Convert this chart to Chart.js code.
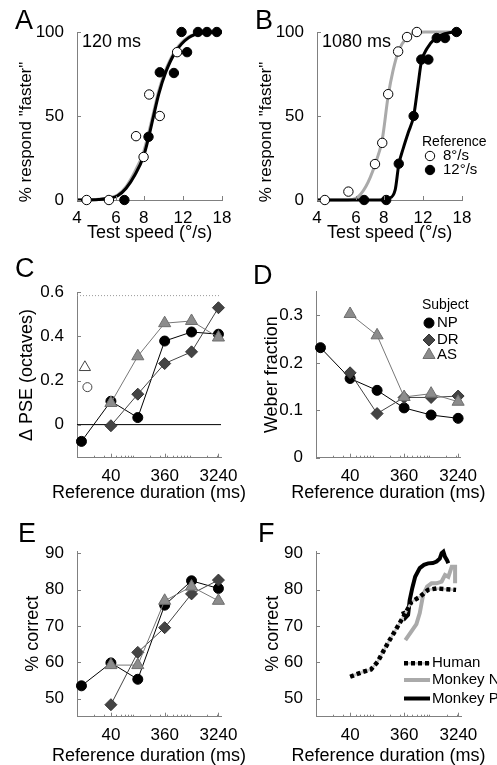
<!DOCTYPE html>
<html>
<head>
<meta charset="utf-8">
<script src="https://cdn.jsdelivr.net/npm/chart.js@4.4.0/dist/chart.umd.min.js"></script>
<style>
  body { margin: 0; background: #fff; }
  #figura { position: relative; width: 497px; height: 765px; overflow: hidden; font-family: 'Liberation Sans', Arial, sans-serif; }
  #figura canvas { position: absolute; }
  .letra { position: absolute; font-size: 27px; line-height: 27px; color: #000; }
</style>
</head>
<body>
<div id="figura">
  <canvas id="painelA" width="260" height="260" style="left:0;top:0"></canvas>
  <canvas id="painelB" width="257" height="260" style="left:240px;top:0"></canvas>
  <canvas id="painelC" width="260" height="260" style="left:0;top:260px"></canvas>
  <canvas id="painelD" width="257" height="260" style="left:240px;top:260px"></canvas>
  <canvas id="painelE" width="260" height="250" style="left:0;top:520px"></canvas>
  <canvas id="painelF" width="257" height="250" style="left:240px;top:520px"></canvas>
  <div class="letra" style="left:15px;top:7px">A</div>
  <div class="letra" style="left:255px;top:7px">B</div>
  <div class="letra" style="left:15px;top:255px">C</div>
  <div class="letra" style="left:253px;top:262px">D</div>
  <div class="letra" style="left:18px;top:520px">E</div>
  <div class="letra" style="left:258px;top:520px">F</div>
</div>
<script>
// ---- A: 120 ms (velocidade de teste em °/s, % respondeu "faster")
const velAbertoA = [4.42, 5.57, 7.38, 7.98, 8.46, 9.44, 11.3]
const pctAbertoA = [0, 0, 38, 25.6, 62.8, 50, 88]
const velCheioA = [6.54, 8.4, 9.44, 10.93, 11.83, 12.53, 14.03, 15.4, 17.06]
const pctCheioA = [0, 37.6, 76, 75.6, 100, 88, 100, 100, 100]
const velCurvaA = [4, 5, 5.6, 6.1, 6.66, 7.3, 7.98, 8.4, 8.85, 9.34, 10.04, 11.1, 12.7, 14.8, 18]
const curvaPretaA = [0, 0.3, 1, 2.5, 7, 15, 26, 37, 50, 63, 76, 88, 96.5, 99.5, 100]
const curvaCinzaA = [0, 0.4, 1.3, 3, 8, 17, 28.5, 39.5, 52, 65, 77.5, 89, 97, 99.6, 100]

// ---- B: 1080 ms
const velAbertoB = [4.34, 5.54, 7.3, 7.87, 8.37, 9.28, 10.18, 11.27]
const pctAbertoB = [0, 5, 21.4, 34, 63, 88.4, 97, 100]
const velCheioB = [6.52, 8.2, 9.34, 10.9, 11.8, 12.7, 13.85, 15.1, 17]
const pctCheioB = [0, 0, 21.6, 50, 83.6, 83.6, 96.4, 96.4, 100]
const velCinzaB = [4, 5.5, 6, 6.64, 7.3, 7.87, 8.37, 8.8, 9.28, 10.18, 11.0, 12.3, 18]
const curvaCinzaB = [0, 0, 1, 8, 21, 36, 62, 77, 88, 97, 99.5, 100, 100]
const velPretaB = [4, 7.6, 8.43, 9.0, 9.34, 9.8, 10.3, 10.9, 11.4, 11.8, 12.5, 13.6, 15.1, 17, 18]
const curvaPretaB = [0, 0, 1, 6, 21, 31, 40, 50, 68, 82, 90, 96, 99, 100, 100]

const marcasVelocidade = [4, 6, 8, 12, 18]
const marcasPct = [0, 50, 100]

// ---- C, D, E: duração de referência (ms) por sujeito
const duracoes = [12, 40, 120, 360, 1080, 3240]
const psePN = [-0.076, 0.106, 0.032, 0.379, 0.42, 0.41]
const pseDR = [null, -0.005, 0.138, 0.277, 0.33, 0.53]
const pseAS = [null, 0.098, 0.31, 0.46, 0.47, 0.395]
const durAbertoTri = [13.8]
const pseAbertoTri = [0.26]
const durAbertoCirc = [15.3]
const pseAbertoCirc = [0.17]
const marcasPse = [0, 0.2, 0.4, 0.6]

const weberNP = [0.232, 0.167, 0.142, 0.105, 0.09, 0.083]
const weberDR = [null, 0.179, 0.093, 0.127, 0.127, 0.13]
const weberAS = [null, 0.303, 0.258, 0.128, 0.135, 0.118]
const marcasWeber = [0, 0.1, 0.2, 0.3]

const acertoNP = [53.5, 59.8, 55.3, 75.7, 82.4, 80.3]
const acertoDR = [null, 48.3, 62.7, 69.5, 78.8, 82.6]
const acertoAS = [null, 59.2, 59.2, 76.9, 80.8, 76.9]
const marcasAcerto = [50, 60, 70, 80, 90]

// ---- F: humano x macacos
const durHumano = [40, 66, 93, 122, 150, 184, 233, 297, 376, 481, 675, 949, 1336, 2014, 2946]
const acertoHumano = [56, 57.3, 58, 60.1, 62.7, 65.2, 67.9, 70.7, 73.4, 76.6, 78, 79.9, 80.3, 80.1, 79.9]
const durMacacoN = [376, 481, 589, 675, 773, 910, 1089, 1336, 1641, 1880, 2155, 2472, 2832, 2832]
const acertoMacacoN = [66.1, 68.5, 70.5, 73.5, 78.5, 80.8, 81.7, 81.7, 82.2, 84, 83.5, 86.3, 86.3, 81.7]
const durMacacoP = [340, 376, 420, 448, 500, 560, 675, 800, 950, 1150, 1336, 1520, 1641, 1760, 1880, 2050, 2150]
const acertoMacacoP = [74, 72.2, 73, 77, 80.5, 83.5, 85.9, 86.8, 87.2, 87.3, 87.7, 88.5, 90, 90.4, 89, 88, 87.2]

const marcasDuracao = [40, 360, 3240]
const marcasMenores = []
for (let d = 10; d <= 1000; d *= 10) {
    for (let k = 1; k <= 9; k++) marcasMenores.push(d * k)
}
const ticksDuracao = [...new Set(marcasMenores.filter(v => v <= 3600).concat(marcasDuracao))].sort((a, b) => a - b)

Chart.defaults.font.family = "'Liberation Sans', Arial, sans-serif"
Chart.defaults.color = '#000'

const CINZA_EIXO = '#808080'
const FONTE = "'Liberation Sans', Arial, sans-serif"

const pares = (xs, ys) => xs.map((x, i) => ({ x, y: ys[i] })).filter(p => p.y !== null)

function curva(xs, ys, cor, largura, ordem, extra) {
    return Object.assign({
        data: pares(xs, ys), showLine: true, borderColor: cor, borderWidth: largura,
        pointRadius: 0, cubicInterpolationMode: 'monotone', clip: false, order: ordem
    }, extra || {})
}

function pontos(xs, ys, estilo, raio, fundo, borda, ordem, corLinha) {
    return {
        data: pares(xs, ys), showLine: !!corLinha, borderColor: corLinha || borda, borderWidth: 1,
        pointStyle: estilo, pointRadius: raio, pointBackgroundColor: fundo,
        pointBorderColor: borda, pointBorderWidth: 1, clip: false, order: ordem
    }
}

function eixoX(tipo, min, max, marcas, principais, padTicks) {
    return {
        type: tipo, min, max,
        grid: { display: false },
        border: { color: CINZA_EIXO },
        afterBuildTicks: s => { s.ticks = marcas.map(v => ({ value: v })) },
        ticks: {
            autoSkip: false, maxRotation: 0, padding: padTicks, font: { size: 17 },
            callback: v => principais.includes(v) ? String(v) : ''
        }
    }
}

function eixoY(min, max, marcas, titulo, padTitulo) {
    return {
        type: 'linear', min, max,
        grid: { display: false },
        border: { color: CINZA_EIXO },
        afterBuildTicks: s => { s.ticks = marcas.map(v => ({ value: v })) },
        ticks: { padding: 5, font: { size: 17 }, callback: v => String(v) },
        title: titulo
            ? { display: true, text: titulo, font: { size: 18 }, padding: { top: padTitulo, bottom: 0 } }
            : { display: false }
    }
}

// desenha linhas de referência, tiques internos, legendas e textos soltos
function camadaExtra(cfg) {
    return {
        id: 'camadaExtra',
        beforeDatasetsDraw(chart) {
            const { ctx, chartArea, scales } = chart
            ;(cfg.linhasH || []).forEach(l => {
                const py = scales.y.getPixelForValue(l.valor)
                ctx.save()
                ctx.strokeStyle = l.cor
                ctx.lineWidth = 1
                ctx.setLineDash(l.tracejado || [])
                ctx.beginPath()
                ctx.moveTo(chartArea.left, py)
                ctx.lineTo(chartArea.right, py)
                ctx.stroke()
                ctx.restore()
            })
        },
        afterDraw(chart) {
            const { ctx, chartArea, scales } = chart
            ctx.save()
            ctx.strokeStyle = CINZA_EIXO
            ctx.lineWidth = 1
            ctx.beginPath()
            scales.x.ticks.forEach(t => {
                const px = Math.round(scales.x.getPixelForValue(t.value)) + 0.5
                ctx.moveTo(px, chartArea.bottom)
                ctx.lineTo(px, chartArea.bottom - (t.label ? 4 : 2))
            })
            scales.y.ticks.forEach(t => {
                const py = Math.round(scales.y.getPixelForValue(t.value)) + 0.5
                ctx.moveTo(chartArea.left, py)
                ctx.lineTo(chartArea.left + 4, py)
            })
            ctx.stroke()

            ;(cfg.tracos || []).forEach(l => {
                ctx.save()
                ctx.strokeStyle = l.cor
                ctx.lineWidth = l.largura
                ctx.setLineDash(l.tracejado || [])
                ctx.beginPath()
                ctx.moveTo(l.x1, l.y)
                ctx.lineTo(l.x2, l.y)
                ctx.stroke()
                ctx.restore()
            })

            ;(cfg.marcadores || []).forEach(m => {
                ctx.fillStyle = m.fundo
                ctx.strokeStyle = m.borda
                ctx.lineWidth = 1
                Chart.helpers.drawPoint(ctx, { pointStyle: m.estilo, radius: m.raio, rotation: 0, borderWidth: 1 }, m.x, m.y)
            })

            const textos = (cfg.textos || []).slice()
            if (cfg.tituloX) {
                textos.push({ texto: cfg.tituloX, x: (chartArea.left + chartArea.right) / 2, y: cfg.yTituloX, tam: 18, alinh: 'center' })
            }
            textos.forEach(t => {
                ctx.save()
                ctx.font = t.tam + 'px ' + FONTE
                ctx.fillStyle = '#000'
                ctx.textAlign = t.alinh || 'left'
                ctx.textBaseline = 'middle'
                ctx.translate(t.x, t.y)
                if (t.rot) ctx.rotate(t.rot)
                ctx.fillText(t.texto, 0, 0)
                ctx.restore()
            })
            ctx.restore()
        }
    }
}

function criarPainel(id, area, datasets, x, y, extras) {
    const canvas = document.getElementById(id)
    const w = canvas.width
    const h = canvas.height
    x.afterFit = s => { s.height = h - area.base }
    y.afterFit = s => { s.width = area.esq }
    return new Chart(canvas, {
        type: 'scatter',
        data: { datasets },
        options: {
            responsive: false,
            animation: false,
            events: [],
            layout: { padding: { top: area.topo, right: w - area.dir, bottom: 0, left: 0 } },
            plugins: { legend: { display: false }, tooltip: { enabled: false } },
            scales: { x, y }
        },
        plugins: [camadaExtra(extras)]
    })
}

const tituloPsico = { texto: '% respond "faster"', x: 26.7, y: 132, tam: 17, alinh: 'center', rot: -Math.PI / 2 }
const tituloVel = 'Test speed (°/s)'
const tituloDur = 'Reference duration (ms)'

// A
criarPainel('painelA', { esq: 77, topo: 32, dir: 222, base: 200 }, [
    pontos(velCheioA, pctCheioA, 'circle', 4.7, '#000', '#000', 1),
    pontos(velAbertoA, pctAbertoA, 'circle', 4.7, '#fff', '#000', 2),
    curva(velCurvaA, curvaPretaA, '#000', 3, 3),
    curva(velCurvaA, curvaCinzaA, '#aaa', 3, 4)
], eixoX('logarithmic', 4, 18, marcasVelocidade, marcasVelocidade, 0),
   eixoY(0, 100, marcasPct, null), {
    tituloX: tituloVel, yTituloX: 233.5,
    textos: [tituloPsico, { texto: '120 ms', x: 82, y: 42, tam: 18 }]
})

// B
criarPainel('painelB', { esq: 77, topo: 32, dir: 222, base: 200 }, [
    pontos(velCheioB, pctCheioB, 'circle', 4.7, '#000', '#000', 1),
    pontos(velAbertoB, pctAbertoB, 'circle', 4.7, '#fff', '#000', 2),
    curva(velPretaB, curvaPretaB, '#000', 3, 3),
    curva(velCinzaB, curvaCinzaB, '#aaa', 3, 4)
], eixoX('logarithmic', 4, 18, marcasVelocidade, marcasVelocidade, 0),
   eixoY(0, 100, marcasPct, null), {
    tituloX: tituloVel, yTituloX: 233.5,
    textos: [
        tituloPsico,
        { texto: '1080 ms', x: 82, y: 42, tam: 18 },
        { texto: 'Reference', x: 182, y: 142, tam: 14 },
        { texto: '8°/s', x: 203, y: 156, tam: 15 },
        { texto: '12°/s', x: 203, y: 170, tam: 15 }
    ],
    marcadores: [
        { estilo: 'circle', raio: 4.7, x: 190, y: 156, fundo: '#fff', borda: '#000' },
        { estilo: 'circle', raio: 4.7, x: 190, y: 170, fundo: '#000', borda: '#000' }
    ]
})

const estiloNP = ['circle', 5, '#000', '#000']
const estiloDR = ['rectRot', 6, '#444', '#333']
const estiloAS = ['triangle', 7, '#8c8c8c', '#6e6e6e']

function sujeitos(np, dr, as) {
    return [
        pontos(duracoes, as, ...estiloAS, 1, '#777'),
        pontos(duracoes, dr, ...estiloDR, 2, '#444'),
        pontos(duracoes, np, ...estiloNP, 3, '#000')
    ]
}

const eixoDuracao = () => eixoX('logarithmic', 10, 3600, ticksDuracao, marcasDuracao, 0)

// C
criarPainel('painelC', { esq: 77, topo: 32.3, dir: 221, base: 197.7 }, [
    ...sujeitos(psePN, pseDR, pseAS),
    pontos(durAbertoTri, pseAbertoTri, 'triangle', 6.5, '#fff', '#444', 4),
    pontos(durAbertoCirc, pseAbertoCirc, 'circle', 4.5, '#fff', '#444', 4)
], eixoDuracao(), eixoY(-0.15, 0.6, marcasPse, 'Δ PSE (octaves)', 16), {
    tituloX: tituloDur, yTituloX: 233.5,
    linhasH: [
        { valor: 0, cor: '#000' },
        { valor: Math.log2(12 / 8), cor: '#999', tracejado: [1, 2] }
    ]
})

// D
criarPainel('painelD', { esq: 76, topo: 31.7, dir: 220.7, base: 197.7 },
    sujeitos(weberNP, weberDR, weberAS),
    eixoDuracao(), eixoY(0, 0.35, marcasWeber, 'Weber fraction', 21.5), {
    tituloX: tituloDur, yTituloX: 233.5,
    textos: [
        { texto: 'Subject', x: 182, y: 45, tam: 14 },
        { texto: 'NP', x: 197, y: 63, tam: 15 },
        { texto: 'DR', x: 197, y: 80, tam: 15 },
        { texto: 'AS', x: 197, y: 95, tam: 15 }
    ],
    marcadores: [
        { estilo: 'circle', raio: 5, x: 189, y: 63, fundo: '#000', borda: '#000' },
        { estilo: 'rectRot', raio: 6, x: 189, y: 80, fundo: '#444', borda: '#333' },
        { estilo: 'triangle', raio: 7, x: 189, y: 95, fundo: '#8c8c8c', borda: '#6e6e6e' }
    ]
})

// E
criarPainel('painelE', { esq: 77, topo: 31, dir: 221, base: 196.7 },
    sujeitos(acertoNP, acertoDR, acertoAS),
    eixoDuracao(), eixoY(45, 90.6, marcasAcerto, '% correct', 22), {
    tituloX: tituloDur, yTituloX: 236
})

// F
criarPainel('painelF', { esq: 76, topo: 31, dir: 221, base: 196.7 }, [
    curva(durHumano, acertoHumano, '#000', 4.5, 1, { cubicInterpolationMode: 'default', borderDash: [4, 3], borderCapStyle: 'butt' }),
    curva(durHumano, acertoHumano, '#c8c8c8', 2.5, 2, { cubicInterpolationMode: 'default' }),
    curva(durMacacoP, acertoMacacoP, '#000', 4, 3, { cubicInterpolationMode: 'default' }),
    curva(durMacacoN, acertoMacacoN, '#aaa', 4, 4, { cubicInterpolationMode: 'default' })
], eixoDuracao(), eixoY(45, 90.6, marcasAcerto, '% correct', 22.5), {
    tituloX: tituloDur, yTituloX: 236,
    tracos: [
        { x1: 164, x2: 190, y: 143.3, cor: '#c8c8c8', largura: 2.5 },
        { x1: 164, x2: 190, y: 143.3, cor: '#000', largura: 4.5, tracejado: [4, 3] },
        { x1: 164, x2: 190, y: 160, cor: '#aaa', largura: 4 },
        { x1: 164, x2: 190, y: 178.5, cor: '#000', largura: 4 }
    ],
    textos: [
        { texto: 'Human', x: 192, y: 143.3, tam: 15 },
        { texto: 'Monkey N', x: 192, y: 160, tam: 15 },
        { texto: 'Monkey P', x: 192, y: 178.5, tam: 15 }
    ]
})
</script>
</body>
</html>
